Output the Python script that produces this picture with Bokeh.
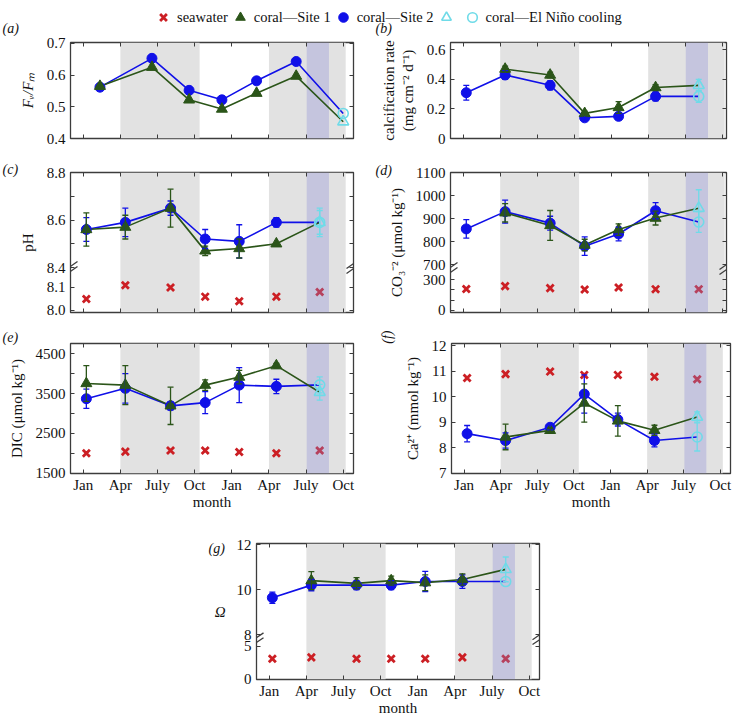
import math
from bokeh.plotting import figure
from bokeh.models import (Range1d, FixedTicker, LinearAxis, ColumnDataSource,
                          Whisker, TeeHead, Legend, LegendItem, Spacer, Axis, Label)
from bokeh.layouts import column, row
from bokeh.embed import file_html
from bokeh.resources import INLINE

# ---------------- data ----------------
tick_months = [0, 3, 6, 9, 12, 15, 18, 21]
tick_labels = ["Jan", "Apr", "July", "Oct", "Jan", "Apr", "July", "Oct"]
gray_periods = [(3.0, 9.4), (15.0, 21.2)]
cooling_periods = [(18.05, 19.85)]

# the last value of every coral series is the El Niño cooling sample
fvfm_months = [1.35, 5.55, 8.55, 11.2, 14.0, 17.2, 21.0]
sample_months = [0.25, 3.4, 7.05, 9.85, 12.6, 15.6, 19.1]

fvfm_site1 = [0.565, 0.625, 0.522, 0.493, 0.543, 0.597, 0.453]
fvfm_site2 = [0.562, 0.653, 0.552, 0.522, 0.582, 0.643, 0.479]

calc_site1 = [None, 0.47, 0.43, 0.17, 0.21, 0.345, 0.36]
calc_site1_err = [None, 0.02, 0.02, 0.015, 0.04, 0.02, 0.04]
calc_site2 = [0.31, 0.43, 0.36, 0.14, 0.15, 0.285, 0.285]
calc_site2_err = [0.05, 0.03, 0.03, 0.015, 0.02, 0.03, 0.04]

ph_site1 = [8.56, 8.57, 8.65, 8.47, 8.48, 8.50, 8.59]
ph_site1_err = [0.07, 0.05, 0.08, 0.02, 0.04, 0.0, 0.05]
ph_site2 = [8.56, 8.59, 8.65, 8.52, 8.51, 8.59, 8.59]
ph_site2_err = [0.05, 0.06, 0.03, 0.04, 0.07, 0.02, 0.06]
ph_seawater = [8.05, 8.11, 8.10, 8.06, 8.04, 8.06, 8.08]

co3_site1 = [None, 925, 870, 785, 852, 902, 945]
co3_site1_err = [None, 40, 65, 25, 25, 30, 80]
co3_site2 = [855, 930, 880, 780, 833, 934, 885]
co3_site2_err = [40, 50, 30, 40, 30, 35, 45]
co3_seawater = [210, 238, 218, 205, 225, 208, 208]

dic_site1 = [3754, 3713, 3192, 3713, 3916, 4202, 3534]
dic_site1_err = [450, 490, 470, 130, 170, 60, 200]
dic_site2 = [3370, 3632, 3192, 3273, 3713, 3681, 3720]
dic_site2_err = [240, 370, 100, 275, 440, 180, 200]
dic_seawater = [2000, 2040, 2070, 2070, 2030, 2000, 2070]

ca_site1 = [None, 8.42, 8.68, 9.75, 9.05, 8.68, 9.2]
ca_site1_err = [None, 0.5, 0.1, 0.75, 0.6, 0.2, 0.2]
ca_site2 = [8.55, 8.28, 8.8, 10.1, 9.1, 8.28, 8.42]
ca_site2_err = [0.32, 0.3, 0.1, 0.75, 0.25, 0.25, 0.55]
ca_seawater = [10.73, 10.88, 10.98, 10.85, 10.85, 10.78, 10.68]

omega_site1 = [None, 10.4, 10.28, 10.4, 10.31, 10.45, 10.9]
omega_site1_err = [None, 0.4, 0.25, 0.2, 0.35, 0.25, 0.55]
omega_site2 = [9.64, 10.2, 10.2, 10.2, 10.36, 10.36, 10.36]
omega_site2_err = [0.25, 0.25, 0.2, 0.2, 0.45, 0.3, 0.0]
omega_seawater = [3.1, 3.3, 3.1, 3.1, 3.1, 3.3, 3.1]

# y ticks and tick labels
fvfm_ticks = [0.4, 0.5, 0.6, 0.7]
fvfm_tick_labels = ["0.4", "0.5", "0.6", "0.7"]
calc_ticks = [0, 0.2, 0.4, 0.6]
calc_tick_labels = ["0", "0.2", "0.4", "0.6"]
ph_ticks_low = [8.0, 8.1]
ph_tick_labels_low = ["8.0", "8.1"]
ph_ticks_high = [8.4, 8.5, 8.6, 8.7, 8.8]
ph_tick_labels_high = ["8.4", "", "8.6", "", "8.8"]
co3_ticks_low = [0, 100, 200, 300]
co3_tick_labels_low = ["0", "", "", "300"]
co3_ticks_high = [700, 800, 900, 1000, 1100]
co3_tick_labels_high = ["700", "800", "900", "1000", "1100"]
dic_ticks = [1500, 2000, 2500, 3000, 3500, 4000, 4500]
dic_tick_labels = ["1500", "", "2500", "", "3500", "", "4500"]
ca_ticks = [7, 8, 9, 10, 11, 12]
ca_tick_labels = ["7", "8", "9", "10", "11", "12"]
omega_ticks_low = [0, 5]
omega_tick_labels_low = ["0", "5"]
omega_ticks_high = [8, 10, 12]
omega_tick_labels_high = ["8", "10", "12"]

# ---------------- style ----------------
FONT = "Liberation Serif"
TXT = "#111111"
AXC = "#3c3c3c"
GRAY = "#e2e2e2"
PURPLE = "#8a8ad8"
BLUE = "#1010e8"
GREEN = "#2b5519"
CYAN = "#6fdbe8"
RED = "#cc1f24"
FS = "15px"

LEFT_X = (-1.03, 21.83)
RIGHT_X = (-1.03, 21.35)

# page geometry: canvas (x, y, w, h) and frame (left, top, right, bottom)
GEO = {
    "a": dict(canvas=(0, 36, 370, 113), frame=(70, 42, 353, 138)),
    "b": dict(canvas=(370, 36, 371, 113), frame=(450, 42, 726, 138)),
    "c": dict(canvas=(0, 149, 370, 176), frame=(70, 172, 353, 312)),
    "d": dict(canvas=(370, 149, 371, 176), frame=(450, 172, 726, 312)),
    "e": dict(canvas=(0, 325, 370, 187), frame=(70, 343, 353, 477)),
    "f": dict(canvas=(370, 325, 371, 187), frame=(447, 343, 730, 477)),
    "g": dict(canvas=(180, 512, 368, 206), frame=(256, 543, 539, 683)),
}


def base_fig(key, xr, yr, title_location="above"):
    cx, cy, cw, ch = GEO[key]["canvas"]
    fl, ft, fr, fb = GEO[key]["frame"]
    p = figure(width=cw, height=ch, x_range=Range1d(*xr), y_range=Range1d(*yr),
               output_backend="svg", toolbar_location=None,
               title_location=title_location,
               min_border_left=fl - cx, min_border_right=cx + cw - fr,
               min_border_top=ft - cy, min_border_bottom=cy + ch - fb)
    p.grid.visible = False
    p.outline_line_color = AXC
    p.outline_line_width = 1.3
    p.background_fill_color = "white"
    p.border_fill_color = "white"
    return p


def panel_letter(p, text, offset, standoff, align="left"):
    t = p.title
    t.text = text
    t.align = align
    t.offset = offset
    t.standoff = standoff
    t.text_font = FONT
    t.text_font_size = "14px"
    t.text_font_style = "italic"
    t.text_color = TXT
    t.vertical_align = "bottom"


def style_axis(ax, ticks, labels=None):
    ax.ticker = FixedTicker(ticks=ticks, minor_ticks=[])
    ax.major_tick_in = 4
    ax.major_tick_out = 0
    ax.major_tick_line_color = AXC
    ax.major_tick_line_width = 1
    ax.minor_tick_line_color = None
    ax.axis_line_color = None
    ax.major_label_text_font = FONT
    ax.major_label_text_color = TXT
    ax.axis_label_text_font = FONT
    ax.axis_label_text_font_size = FS
    ax.axis_label_text_font_style = "normal"
    ax.axis_label_text_color = TXT
    if labels is None:
        ax.major_label_text_font_size = "0px"
        ax.major_label_standoff = 0
        ax.major_label_overrides = {t: "" for t in ticks}
    else:
        ax.major_label_text_font_size = FS
        ax.major_label_standoff = 3
        ax.major_label_overrides = {t: l for t, l in zip(ticks, labels)}


def setup_axes(p, yticks, ylabels, ylabel, show_x, italic_label=False, horizontal_label=False):
    xa = p.xaxis[0]
    ya = p.yaxis[0]
    if show_x:
        style_axis(xa, tick_months, tick_labels)
        xa.axis_label = "month"
        xa.axis_label_standoff = -2
    else:
        style_axis(xa, tick_months, None)
    style_axis(ya, yticks, ylabels)
    ya.major_label_standoff = 5
    if ylabel:
        ya.axis_label = ylabel
        ya.axis_label_standoff = 8
        if italic_label:
            ya.axis_label_text_font_style = "italic"
        if horizontal_label and "axis_label_orientation" in Axis.properties():
            ya.axis_label_orientation = "horizontal"
    top = LinearAxis()
    style_axis(top, tick_months, None)
    p.add_layout(top, "above")
    right = LinearAxis()
    style_axis(right, yticks, None)
    p.add_layout(right, "right")


def add_break(p, key, yb, xr):
    fl, ft, fr, fb = GEO[key]["frame"]
    mpp = (xr[1] - xr[0]) / (fr - fl)
    xs0, ys0, xs1, ys1 = [], [], [], []
    for edge, inward in ((xr[0], 1), (xr[1], -1)):
        cxm = edge + inward * 2 * mpp
        for dyo in (-2.5, 2.5):
            xs0.append(cxm - 5 * mpp)
            ys0.append(yb + dyo - 3.5)
            xs1.append(cxm + 5 * mpp)
            ys1.append(yb + dyo + 3.5)
    p.segment(xs0, ys0, xs1, ys1, line_color=AXC, line_width=1.3)


def add_whiskers(p, xs, ys, es, color, fmap):
    bx, up, lo = [], [], []
    for x, y, e in zip(xs, ys, es):
        if y is None or e is None or e == 0:
            continue
        bx.append(x)
        up.append(fmap(y + e))
        lo.append(fmap(y - e))
    if not bx:
        return
    src = ColumnDataSource(dict(x=bx, upper=up, lower=lo))
    w = Whisker(source=src, base="x", upper="upper", lower="lower",
                line_color=color, line_width=1.3, level="annotation",
                upper_head=TeeHead(size=6, line_color=color, line_width=1.3),
                lower_head=TeeHead(size=6, line_color=color, line_width=1.3))
    p.add_layout(w)


def draw(p, yr, months, s1, e1, s2, e2, sea, hi, lo):
    for a, b in gray_periods:
        p.quad(left=a, right=b, bottom=yr[0], top=yr[1], fill_color=GRAY, line_color=None)
    if sea is not None:
        p.scatter(x=months, y=[lo(v) for v in sea], marker="x", size=10,
                  line_width=2.8, line_color=RED)
    for a, b in cooling_periods:
        p.quad(left=a, right=b, bottom=yr[0], top=yr[1], fill_color=PURPLE,
               fill_alpha=0.32, line_color=None)
    series = []
    for s, e, color, marker, msize in ((s2, e2, BLUE, "circle", 10), (s1, e1, GREEN, "triangle", 11)):
        xs = [m for m, v in zip(months, s) if v is not None]
        ys = [v for v in s if v is not None]
        es = [ev for v, ev in zip(s, e) if v is not None] if e is not None else None
        series.append((xs, ys, es, color, marker, msize))
        p.line(xs, [hi(v) for v in ys], line_color=color, line_width=1.6)
    for xs, ys, es, color, marker, msize in series:
        p.scatter(xs[:-1], [hi(v) for v in ys[:-1]], marker=marker, size=msize,
                  fill_color=color, line_color=color)
    for xs, ys, es, color, marker, msize in series:
        p.scatter(xs[-1:], [hi(v) for v in ys[-1:]], marker=marker, size=msize,
                  fill_color=None, line_color=CYAN, line_width=1.6)
    for xs, ys, es, color, marker, msize in series:
        if es is None:
            continue
        add_whiskers(p, xs[:-1], ys[:-1], es[:-1], color, hi)
        add_whiskers(p, xs[-1:], ys[-1:], es[-1:], CYAN, hi)


def ident(v):
    return v


def broken(lo_rng, hi_rng, B, H):
    L0, L1 = lo_rng
    U0, U1 = hi_rng
    lo = lambda v: round((v - L0) / (L1 - L0) * B, 4)
    hi = lambda v: round(B + (v - U0) / (U1 - U0) * (H - B), 4)
    return lo, hi


# ---------------- header: legend and letters (a), (b) ----------------
HEADER_H = 36
hd = figure(width=741, height=HEADER_H, x_range=Range1d(0, 741), y_range=Range1d(HEADER_H, 0),
            output_backend="svg", toolbar_location=None,
            x_axis_location=None, y_axis_location=None,
            min_border_left=0, min_border_right=0, min_border_top=0, min_border_bottom=0)
hd.grid.visible = False
hd.outline_line_color = None
hd.background_fill_color = "white"
hd.border_fill_color = "white"
hidden_x, hidden_y = [-10], [-10]
r_sea = hd.scatter(x=hidden_x, y=hidden_y, marker="x", line_width=2.8, line_color=RED)
r_s1 = hd.scatter(x=hidden_x, y=hidden_y, marker="triangle", fill_color=GREEN, line_color=GREEN)
r_s2 = hd.scatter(x=hidden_x, y=hidden_y, marker="circle", fill_color=BLUE, line_color=BLUE)
r_ct = hd.scatter(x=hidden_x, y=hidden_y, marker="triangle", fill_color=None, line_color=CYAN, line_width=1.6)
r_cc = hd.scatter(x=hidden_x, y=hidden_y, marker="circle", fill_color=None, line_color=CYAN, line_width=1.6)
legend = Legend(items=[LegendItem(label="seawater", renderers=[r_sea]),
                       LegendItem(label="coral—Site 1", renderers=[r_s1]),
                       LegendItem(label="coral—Site 2", renderers=[r_s2]),
                       LegendItem(label="", renderers=[r_ct]),
                       LegendItem(label="coral—El Niño cooling", renderers=[r_cc])],
                orientation="horizontal", location=(151, 7),
                border_line_color=None, background_fill_alpha=0,
                padding=0, margin=0, spacing=0,
                glyph_width=24, glyph_height=24, label_standoff=2, label_width=0,
                label_text_font=FONT, label_text_font_size="14.5px",
                label_text_color=TXT, label_height=14)
hd.add_layout(legend)
for txt, lx, ly in (("(a)", 2, 28), ("(b)", 375, 28)):
    hd.add_layout(Label(x=lx, y=ly, text=txt, text_font=FONT, text_font_size="14px",
                        text_font_style="italic", text_align="left",
                        text_baseline="middle", text_color=TXT))

# ---------------- panels ----------------
# (a)
yr_a = (0.4, 0.703)
pa = base_fig("a", LEFT_X, yr_a)
draw(pa, yr_a, fvfm_months, fvfm_site1, None, fvfm_site2, None, None, ident, ident)
setup_axes(pa, fvfm_ticks, fvfm_tick_labels, "Fᵥ/Fₘ", False, italic_label=True)

# (b)
yr_b = (0.0, 0.65)
pb = base_fig("b", RIGHT_X, yr_b)
draw(pb, yr_b, sample_months, calc_site1, calc_site1_err, calc_site2, calc_site2_err, None, ident, ident)
setup_axes(pb, calc_ticks, calc_tick_labels, "calcification rate\n(mg cm⁻² d⁻¹)", False)

# (c) broken axis
Hc, Bc = 140, 45
lo_c, hi_c = broken((7.991, 8.187), (8.4, 8.8), Bc, Hc)
yr_c = (0, Hc)
pc = base_fig("c", LEFT_X, yr_c)
draw(pc, yr_c, sample_months, ph_site1, ph_site1_err, ph_site2, ph_site2_err, ph_seawater, hi_c, lo_c)
setup_axes(pc, [lo_c(t) for t in ph_ticks_low] + [hi_c(t) for t in ph_ticks_high],
           ph_tick_labels_low + ph_tick_labels_high, "pH", False)
add_break(pc, "c", Bc, LEFT_X)
panel_letter(pc, "(c)", -68, -8)

# (d) broken axis
Hd, Bd = 140, 44
lo_d, hi_d = broken((-20, 410), (683, 1100), Bd, Hd)
yr_d = (0, Hd)
pd_ = base_fig("d", RIGHT_X, yr_d)
draw(pd_, yr_d, sample_months, co3_site1, co3_site1_err, co3_site2, co3_site2_err, co3_seawater, hi_d, lo_d)
setup_axes(pd_, [lo_d(t) for t in co3_ticks_low] + [hi_d(t) for t in co3_ticks_high],
           co3_tick_labels_low + co3_tick_labels_high, "CO₃⁻² (μmol kg⁻¹)", False)
add_break(pd_, "d", Bd, RIGHT_X)
panel_letter(pd_, "(d)", -75, -10)

# (e)
yr_e = (1490, 4760)
pe = base_fig("e", LEFT_X, yr_e)
draw(pe, yr_e, sample_months, dic_site1, dic_site1_err, dic_site2, dic_site2_err, dic_seawater, ident, ident)
setup_axes(pe, dic_ticks, dic_tick_labels, "DIC (μmol kg⁻¹)", True)
panel_letter(pe, "(e)", -68, -2)

# (f)
yr_f = (6.99, 12.08)
pf = base_fig("f", LEFT_X, yr_f, title_location="left")
draw(pf, yr_f, sample_months, ca_site1, ca_site1_err, ca_site2, ca_site2_err, ca_seawater, ident, ident)
setup_axes(pf, ca_ticks, ca_tick_labels, "Ca²⁺ (mmol kg⁻¹)", True)
panel_letter(pf, "(f)", -13, 14, align="right")

# (g) broken axis
Hg, Bg = 140, 42
lo_g, hi_g = broken((-0.05, 6.13), (7.82, 12.05), Bg, Hg)
yr_g = (0, Hg)
pg = base_fig("g", LEFT_X, yr_g)
draw(pg, yr_g, sample_months, omega_site1, omega_site1_err, omega_site2, omega_site2_err, omega_seawater, hi_g, lo_g)
setup_axes(pg, [lo_g(t) for t in omega_ticks_low] + [hi_g(t) for t in omega_ticks_high],
           omega_tick_labels_low + omega_tick_labels_high, "Ω", True,
           italic_label=True, horizontal_label=True)
add_break(pg, "g", Bg, LEFT_X)
panel_letter(pg, "(g)", -48, -24)

layout = column(
    hd,
    row(pa, pb),
    row(pc, pd_),
    row(pe, pf),
    row(Spacer(width=180, height=206), pg),
)

open("out.html", "w").write(file_html(layout, INLINE))
